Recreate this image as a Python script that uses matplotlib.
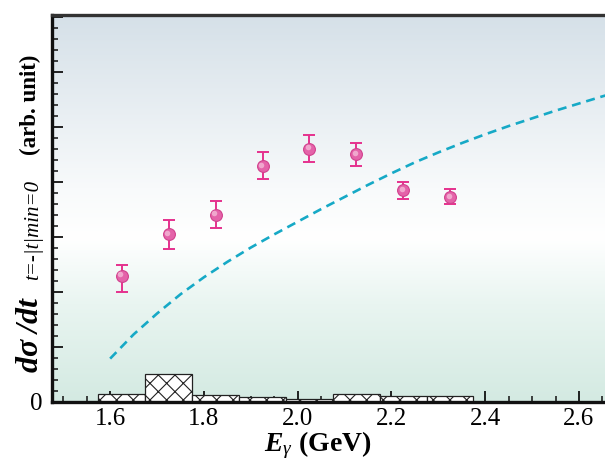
import numpy as np
import matplotlib
matplotlib.use("Agg")
import matplotlib.pyplot as plt
from matplotlib.colors import LinearSegmentedColormap
from matplotlib.ticker import MultipleLocator
import matplotlib.transforms as mtransforms

plt.rcParams['font.family'] = ['Liberation Serif', 'DejaVu Serif']
plt.rcParams['mathtext.fontset'] = 'custom'
plt.rcParams['mathtext.rm'] = 'Liberation Serif'
plt.rcParams['mathtext.it'] = 'Liberation Serif:italic'
plt.rcParams['mathtext.bf'] = 'Liberation Serif:bold'
plt.rcParams['mathtext.bfit'] = 'Liberation Serif:bold:italic'
plt.rcParams['hatch.linewidth'] = 0.8

# data points
E_pts = [1.625, 1.725, 1.825, 1.925, 2.025, 2.125, 2.225, 2.325]
xs_pts = [2.29, 3.04, 3.40, 4.28, 4.60, 4.50, 3.84, 3.72]
err_lo = [0.30, 0.27, 0.24, 0.24, 0.25, 0.21, 0.16, 0.13]
err_hi = [0.19, 0.27, 0.25, 0.25, 0.25, 0.21, 0.16, 0.15]

# systematic histogram
bin_edges = [1.575, 1.675, 1.775, 1.875, 1.975, 2.075, 2.175, 2.275, 2.375]
sys_vals = [0.136, 0.50, 0.118, 0.087, 0.045, 0.13, 0.10, 0.10]

# model curve (dashed)
E_curve = [1.60, 1.65, 1.70, 1.75, 1.80, 1.85, 1.90, 1.95, 2.00, 2.05, 2.10,
           2.15, 2.20, 2.25, 2.30, 2.35, 2.40, 2.45, 2.50, 2.55, 2.60, 2.65, 2.70]
y_curve = [0.78, 1.22, 1.60, 1.95, 2.26, 2.54, 2.80, 3.04, 3.27, 3.50, 3.72,
           3.94, 4.15, 4.35, 4.53, 4.70, 4.86, 5.01, 5.15, 5.29, 5.42, 5.55, 5.67]

x_ticks = [1.6, 1.8, 2.0, 2.2, 2.4, 2.6]
x_ticklabels = ['1.6', '1.8', '2.0', '2.2', '2.4', '2.6']

W, H = 605, 461
fig = plt.figure(figsize=(W / 100, H / 100), dpi=100)
ax = fig.add_axes([52.3 / W, 1 - 401.5 / H, 1.0 - 52.3 / W, (401.5 - 15) / H])
ax.set_xlim(1.4766, 2.6555)
ax.set_ylim(0, 7.03)

# background gradient
cmap = LinearSegmentedColormap.from_list('bg', [
    (0.0, '#d4eae2'), (0.25, '#e9f5f1'), (0.42, '#ffffff'),
    (0.55, '#f8fafb'), (1.0, '#d5e0e8')])
grad = np.linspace(0, 1, 256).reshape(-1, 1)
ax.imshow(grad, aspect='auto', cmap=cmap, origin='lower',
          extent=[0, 1, 0, 1], transform=ax.transAxes, zorder=0)

# histogram
widths = np.diff(bin_edges)
ax.bar(bin_edges[:-1], sys_vals, width=widths, align='edge',
       facecolor='white', edgecolor='#222222', hatch='xx', linewidth=0.9, zorder=2)

# dashed curve
ax.plot(E_curve, y_curve, linestyle=(0, (3.4, 2.2)), color='#16a9c6', lw=1.9, zorder=3)

# data points
ax.errorbar(E_pts, xs_pts, yerr=[err_lo, err_hi], fmt='none', ecolor='#e5318e',
            elinewidth=1.4, capsize=4.3, capthick=1.4, zorder=4)
ax.plot(E_pts, xs_pts, 'o', ms=8.5, mfc='#e463a9', mec='#d2408d', mew=0.8, zorder=5)
off = mtransforms.offset_copy(ax.transData, fig=fig, x=-1.0, y=1.0, units='points')
ax.plot(E_pts, xs_pts, 'o', ms=4.0, mfc='#f2afd2', mec='none', alpha=0.9,
        transform=off, zorder=6)

# axes style
for s in ['left', 'bottom']:
    ax.spines[s].set_linewidth(2.4)
    ax.spines[s].set_color('#111111')
ax.spines['top'].set_linewidth(2.4)
ax.spines['top'].set_color('#333333')
ax.spines['right'].set_visible(False)

ax.set_xticks(x_ticks)
ax.set_xticklabels(x_ticklabels)
ax.xaxis.set_minor_locator(MultipleLocator(0.05))
ax.set_yticks(list(range(0, 8)))
ax.set_yticklabels(['0'] + [''] * 7)
ax.yaxis.set_minor_locator(MultipleLocator(0.2))
ax.set_ylim(0, 7.03)
ax.set_xlim(1.4766, 2.6555)
ax.tick_params(axis='both', which='major', direction='in', length=8, width=1.3,
               labelsize=18, pad=5, color='#111111')
ax.tick_params(axis='both', which='minor', direction='in', length=4, width=1.1,
               color='#111111')
ax.tick_params(axis='y', which='major', pad=7)

# x label
fig.text(318 / W, 1 - 445 / H, r'$\mathbfit{E}_{\gamma}$ (GeV)', fontsize=20,
         fontweight='bold', ha='center', va='center')

# y label, composed of three pieces
fig.text(30 / W, 1 - 334 / H, r'$\mathbfit{d\sigma}\ \mathbfit{/dt}$',
         fontsize=23, rotation=90, ha='center', va='center')
fig.text(34 / W, 1 - 230 / H, 't=-|t|min=0', fontsize=15, style='italic',
         rotation=90, ha='center', va='center')
fig.text(30 / W, 1 - 105 / H, '(arb. unit)', fontsize=16.5, fontweight='bold',
         rotation=90, ha='center', va='center')

fig.savefig('out.png', dpi=100)
